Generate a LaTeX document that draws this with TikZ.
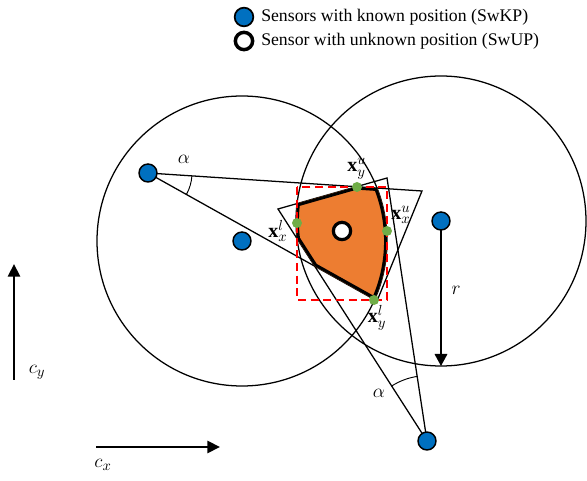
\documentclass[tikz,border=0pt]{standalone}
\usepackage{fontspec}
\setmainfont{Liberation Serif}
\usetikzlibrary{arrows.meta,angles}

\definecolor{kpblue}{RGB}{0,112,192}
\definecolor{regorange}{RGB}{237,125,49}
\definecolor{dotgreen}{RGB}{112,173,71}

\begin{document}
\begin{tikzpicture}[
        x=0.75pt, y=-0.75pt,
        every node/.style={font=\fontsize{13.3}{16}\selectfont},
        mathlabel/.style={font=\fontsize{15}{18}\selectfont},
        known/.style={circle, draw=black, line width=1.1pt, fill=kpblue, minimum size=13.5pt, inner sep=0pt},
        unknown/.style={circle, draw=black, line width=2.4pt, fill=white, minimum size=13pt, inner sep=0pt},
        bound/.style={circle, fill=dotgreen, minimum size=7.5pt, inner sep=0pt},
        thin/.style={draw=black, line width=0.95pt},
        axis/.style={-{Triangle[width=9pt,length=9.5pt]}, line width=2.2pt},
        radius arrow/.style={-{Triangle[width=9.5pt,length=9pt]}, line width=0.95pt},
        bbox/.style={draw=red, line width=1.6pt, dash pattern=on 6pt off 3.5pt}
        ]
        \useasboundingbox (0,0) rectangle (587,481);

        % sensor positions
        \coordinate (s1) at (148,173);
        \coordinate (s2) at (242,241);
        \coordinate (s3) at (441,221);
        \coordinate (s4) at (427,441);
        \coordinate (su) at (342,231);

        % far corners of the two angle sectors
        \coordinate (c1) at (422,191);
        \coordinate (d1) at (377,301);
        \coordinate (a4) at (387,178);
        \coordinate (b4) at (278,209);

        % range circles and sectors
        \draw[thin] (s2) circle[radius=145];
        \draw[thin] (s3) circle[radius=145];
        \draw[thin, line join=miter] (s1) -- (c1) -- (d1) -- cycle;
        \draw[thin, line join=miter] (s4) -- (a4) -- (b4) -- cycle;

        % feasible region
        \begin{scope}
            \clip (s2) circle[radius=145];
            \clip (s3) circle[radius=145];
            \clip (s1) -- (c1) -- (d1) -- cycle;
            \clip (s4) -- (a4) -- (b4) -- cycle;
            \fill[regorange] (250,150) rectangle (420,320);
            \draw[line width=4.4pt] (s2) circle[radius=145] (s3) circle[radius=145]
                (s1) -- (c1) -- (d1) -- cycle (s4) -- (a4) -- (b4) -- cycle;
        \end{scope}

        % angles
        \pic[draw, line width=0.7pt, angle radius=33pt] {angle = d1--s1--c1};
        \pic[draw, line width=0.7pt, angle radius=49pt] {angle = a4--s4--b4};
        \node[mathlabel] (alpha1) at (184,159) {$\alpha$};
        \node[mathlabel] (alpha4) at (379,393) {$\alpha$};

        % range r
        \coordinate (rend) at (441,366);
        \draw[radius arrow] (s3) -- (rend);
        \node[mathlabel] (rlabel) at (456,290) {$r$};

        % sensors
        \node[known] (kp1) at (s1) {};
        \node[known] (kp2) at (s2) {};
        \node[known] (kp3) at (s3) {};
        \node[known] (kp4) at (s4) {};
        \node[unknown] (up) at (su) {};

        % bounds of the region
        \coordinate (xlx) at (297,223);
        \coordinate (xuy) at (357,187);
        \coordinate (xux) at (387,231);
        \coordinate (xly) at (374,300);
        \draw[bbox] (xlx |- xuy) rectangle (xux |- xly);
        \node[bound] (dxlx) at (xlx) {};
        \node[bound] (dxuy) at (xuy) {};
        \node[bound] (dxux) at (xux) {};
        \node[bound] (dxly) at (xly) {};
        \node[mathlabel] (lxlx) at (278,231) {$\mathbf{x}_x^l$};
        \node[mathlabel] (lxuy) at (357,169) {$\mathbf{x}_y^u$};
        \node[mathlabel] (lxux) at (401,215) {$\mathbf{x}_x^u$};
        \node[mathlabel] (lxly) at (377,318) {$\mathbf{x}_y^l$};

        % axes
        \coordinate (cy0) at (14,380);
        \coordinate (cy1) at (14,264);
        \coordinate (cx0) at (96,447);
        \coordinate (cx1) at (220,447);
        \draw[axis] (cy0) -- (cy1);
        \draw[axis] (cx0) -- (cx1);
        \node[mathlabel] (cylabel) at (37,372) {$c_y$};
        \node[mathlabel] (cxlabel) at (103,465) {$c_x$};

        % legend
        \node[known, minimum size=14pt, line width=1.3pt] (legkp) at (244,17) {};
        \node[unknown, minimum size=13pt, line width=2.6pt] (legup) at (244,41) {};
        \node[anchor=west, inner sep=0pt] (legkptext) at (261,17) {Sensors with known position (SwKP)};
        \node[anchor=west, inner sep=0pt] (leguptext) at (261,41) {Sensor with unknown position (SwUP)};
    \end{tikzpicture}
\end{document}
